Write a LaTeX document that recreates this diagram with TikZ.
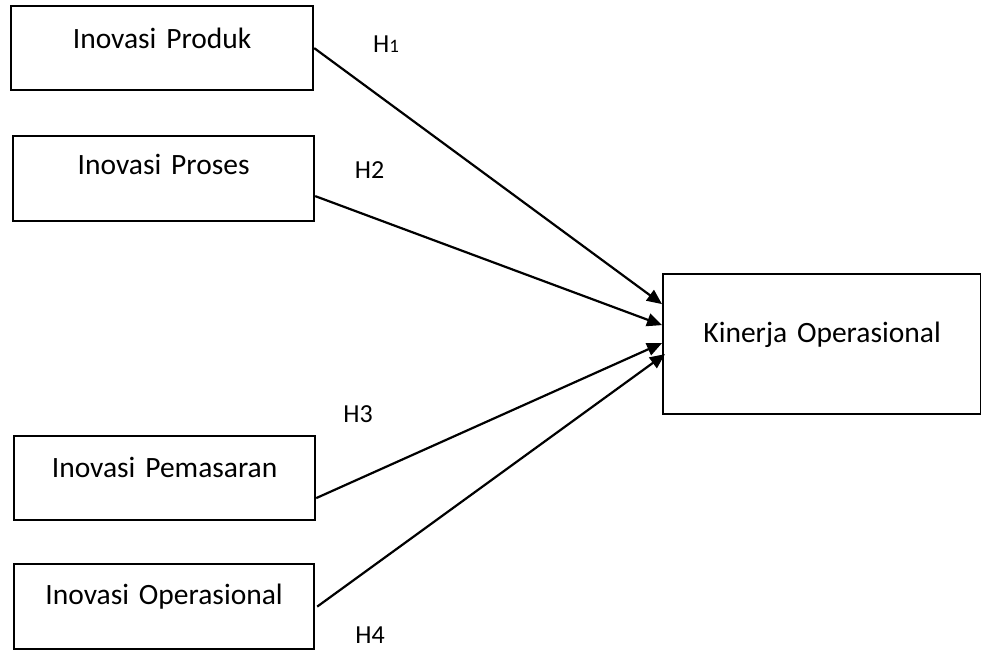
\documentclass[tikz,border=0pt]{standalone}
\usepackage{fontspec}
\setmainfont{Carlito}
\usetikzlibrary{arrows.meta}
\begin{document}
\begin{tikzpicture}[x=1pt,y=-1pt,
  box/.style={draw,line width=2.2pt,inner sep=0pt,anchor=north west,align=center,
    font=\fontsize{29.5}{34}\selectfont},
  hlab/.style={anchor=base,inner sep=0pt,font=\fontsize{26}{30}\selectfont},
  arr/.style={line width=2.2pt,-{Triangle[length=15pt,width=13pt]}}]
\useasboundingbox (0,0) rectangle (981,649);
\node[box,text width=302pt,text height=42pt,text depth=42pt] (p1) at (10,5) {Inovasi Produk};
\node[box,text width=301pt,text height=38pt,text depth=47pt] (p2) at (12,135) {Inovasi Proses};
\node[box,text width=301pt,text height=41pt,text depth=43pt] (p3) at (13,435) {Inovasi Pemasaran};
\node[box,text width=300pt,text height=40pt,text depth=45pt] (p4) at (13,563) {Inovasi Operasional};
\node[box,text width=318pt,text height=68pt,text depth=72pt] (k) at (662,273) {Kinerja Operasional};
\node[hlab] (h1) at (386,52) {H{\fontsize{19}{21}\selectfont 1}};
\node[hlab] (h2) at (369.5,178) {H2};
\node[hlab] (h3) at (358,422) {H3};
\node[hlab] (h4) at (370,643) {H4};
\draw[arr] (p1.east) -- ([yshift=40pt]k.west);
\draw[arr] ([yshift=-17.5pt]p2.east) -- ([yshift=19pt]k.west);
\draw[arr] ([yshift=-20pt]p3.east) -- ([yshift=1pt]k.west);
\draw[arr] ([xshift=2pt]p4.east) -- ([xshift=3pt,yshift=-10pt]k.west);
\end{tikzpicture}
\end{document}
